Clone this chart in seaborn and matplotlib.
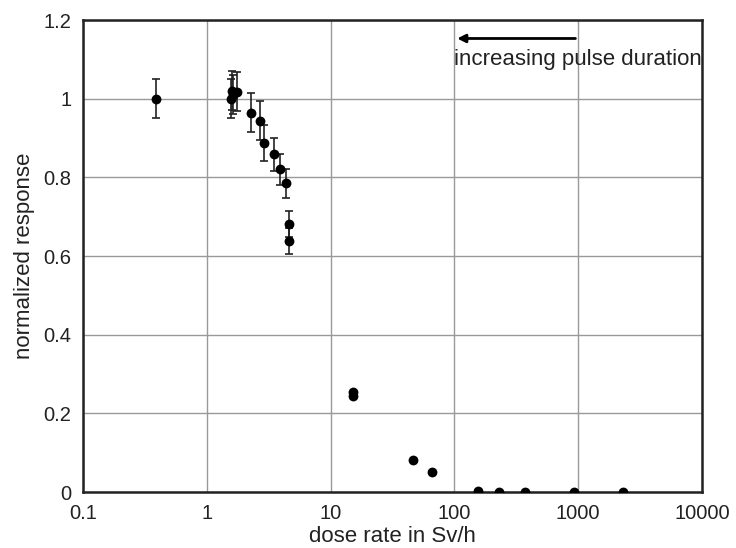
import matplotlib
matplotlib.use("Agg")
import matplotlib.pyplot as plt
import seaborn as sns
import pandas as pd
import numpy as np
from matplotlib.ticker import LogLocator, FixedLocator, NullFormatter

dose_rate = [0.39, 1.58, 1.60, 1.62, 1.75, 2.26, 2.69, 2.90, 3.49, 3.90, 4.37, 4.58, 4.58,
             15.2, 15.2, 46, 66, 155, 231, 372, 925, 2290]
response = [1.00, 1.00, 1.02, 1.01, 1.018, 0.964, 0.944, 0.887, 0.859, 0.82, 0.785, 0.681, 0.638,
            0.255, 0.243, 0.081, 0.052, 0.003, 0.0, 0.0, 0.0, 0.0]
error = [0.05, 0.05, 0.05, 0.05, 0.05, 0.05, 0.05, 0.045, 0.042, 0.04, 0.037, 0.033, 0.033,
         0, 0, 0, 0, 0, 0, 0, 0, 0]

x_ticks = [0.1, 1, 10, 100, 1000, 10000]
x_labels = ["0.1", "1", "10", "100", "1000", "10000"]
y_ticks = [0, 0.2, 0.4, 0.6, 0.8, 1, 1.2]
y_labels = ["0", "0.2", "0.4", "0.6", "0.8", "1", "1.2"]

df = pd.DataFrame({"dose": dose_rate, "resp": response, "err": error})

sns.set_style("white")
plt.rcParams['font.family'] = ['Liberation Sans', 'DejaVu Sans']

fig = plt.figure(figsize=(7.36, 5.48), dpi=100)
ax = fig.add_axes([83/736, 1 - 492/548, (702-83)/736, (492-20)/548])

eb = df[df["err"] > 0]
ax.errorbar(eb["dose"], eb["resp"], yerr=eb["err"], fmt="none", ecolor="#222222",
            elinewidth=1.2, capsize=3, capthick=1.2, zorder=3)
sns.scatterplot(data=df, x="dose", y="resp", ax=ax, color="black", s=50,
                edgecolor="black", linewidth=0, zorder=4, legend=False)

ax.set_xscale("log")
ax.set_xlim(0.1, 10000)
ax.set_ylim(0, 1.2)
ax.xaxis.set_major_locator(FixedLocator(x_ticks))
ax.set_xticklabels(x_labels)
ax.xaxis.set_minor_locator(LogLocator(base=10, subs=np.arange(2, 10), numticks=20))
ax.xaxis.set_minor_formatter(NullFormatter())
ax.set_yticks(y_ticks)
ax.set_yticklabels(y_labels)

ax.grid(True, which="major", color="#999999", linewidth=1.0)
ax.set_axisbelow(True)
for s in ax.spines.values():
    s.set_color("#222222")
    s.set_linewidth(1.8)

ax.tick_params(axis="both", which="major", labelsize=14.5, color="#555555", length=5, width=1,
               direction="out", labelcolor="#222222")
ax.tick_params(axis="x", which="minor", direction="in", length=3, color="#888888")
ax.set_xlabel("dose rate in Sv/h", fontsize=16, color="#222222", labelpad=2)
ax.set_ylabel("normalized response", fontsize=16, color="#222222", labelpad=6)

ax.annotate("", xy=(100, 1.153), xytext=(1000, 1.153),
            arrowprops=dict(arrowstyle="-|>", color="black", lw=2, mutation_scale=12))
ax.text(10000, 1.10, "increasing pulse duration", ha="right", va="center", fontsize=16,
        color="#222222")

fig.savefig("out.png", dpi=100)
